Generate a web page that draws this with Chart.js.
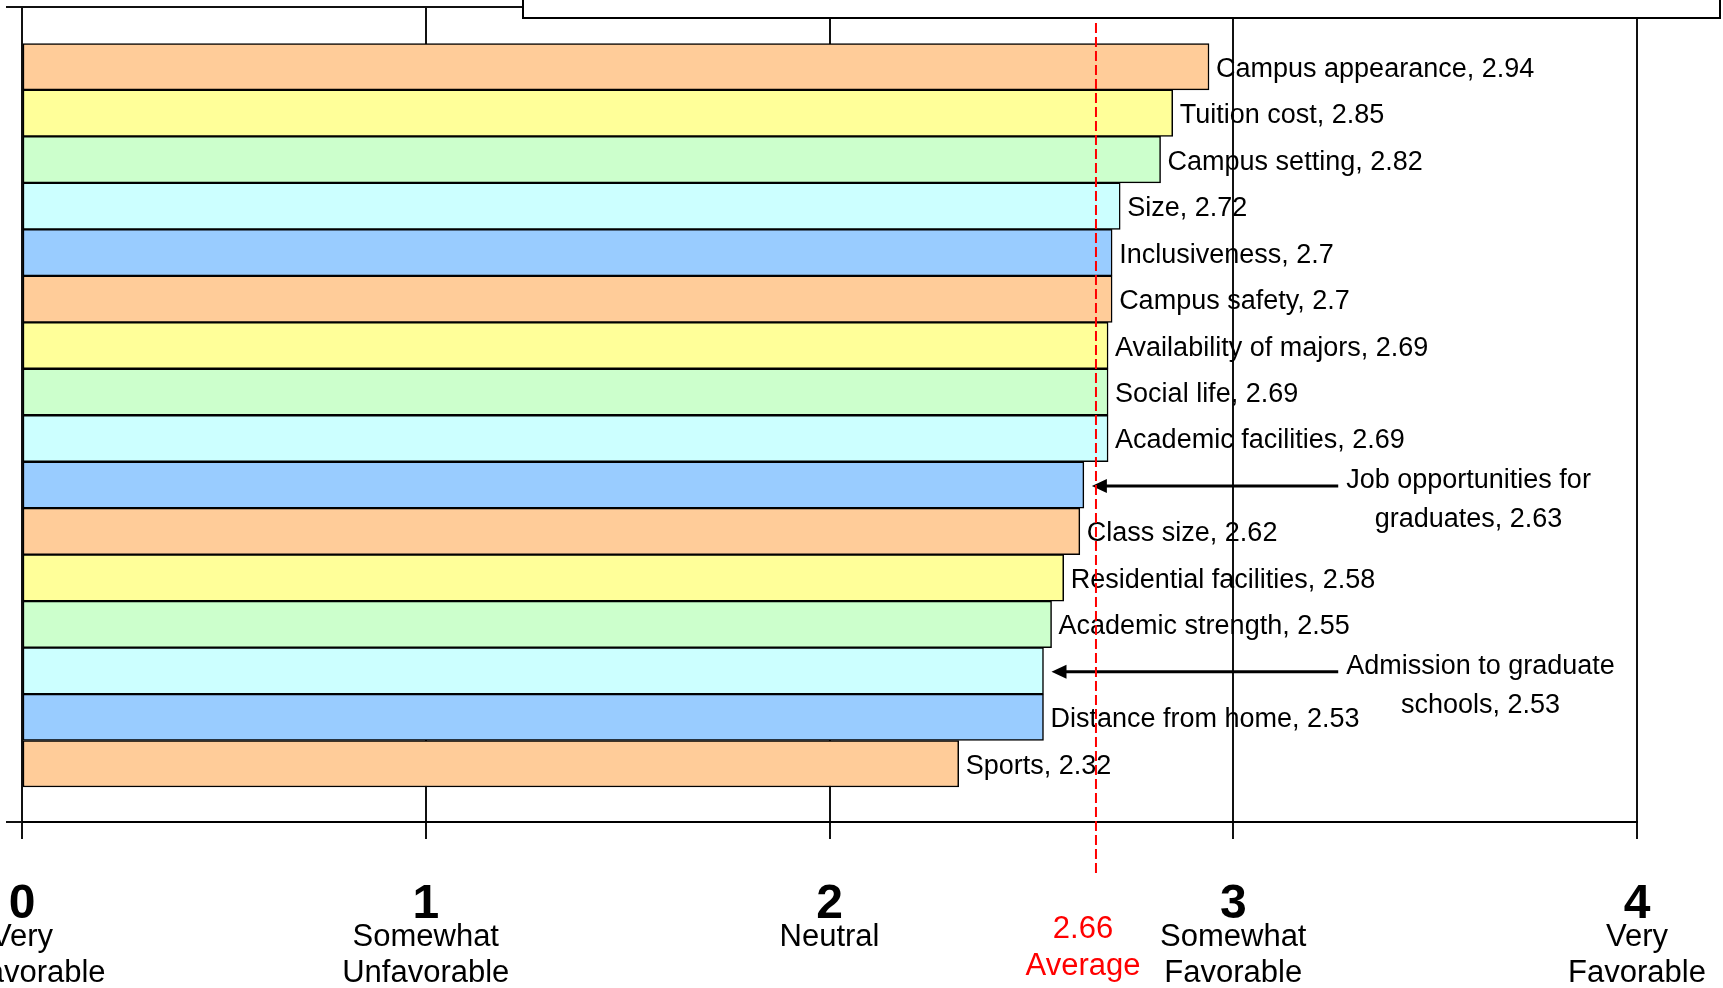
<!DOCTYPE html>
<html lang="en">
<head>
    <meta charset="UTF-8">
    <title>Rating of College Attributes</title>
    <script src="https://cdn.jsdelivr.net/npm/chart.js"></script>
    <style>
        html, body { margin: 0; padding: 0; background: #fff; }
        .chart-container { width: 1723px; height: 988px; position: relative; }
    </style>
</head>
<body>
    <div class="chart-container">
        <canvas id="ratingChart"></canvas>
    </div>

    <script>
        // Attributes, top to bottom, with their average rating
        const categories = [
            'Campus appearance', 'Tuition cost', 'Campus setting', 'Size',
            'Inclusiveness', 'Campus safety', 'Availability of majors', 'Social life',
            'Academic facilities', 'Job opportunities for graduates', 'Class size',
            'Residential facilities', 'Academic strength', 'Admission to graduate schools',
            'Distance from home', 'Sports'
        ];
        const scores = [2.94, 2.85, 2.82, 2.72, 2.7, 2.7, 2.69, 2.69, 2.69, 2.63, 2.62, 2.58, 2.55, 2.53, 2.53, 2.32];

        // Scale ticks and their captions
        const tickValues = [0, 1, 2, 3, 4];
        const tickCaptions = [
            ['Very', 'Unfavorable'],
            ['Somewhat', 'Unfavorable'],
            ['Neutral'],
            ['Somewhat', 'Favorable'],
            ['Very', 'Favorable']
        ];

        // Average reference line
        const averageScore = 2.66;
        const averageCaption = ['2.66', 'Average'];

        // Labels that sit off to the side with an arrow
        const calloutLabels = {
            'Job opportunities for graduates': ['Job opportunities for', 'graduates'],
            'Admission to graduate schools': ['Admission to graduate', 'schools']
        };

        const fillColors = ['#FFCC99', '#FFFF99', '#CCFFCC', '#CCFFFF', '#99CCFF'];
        const FONT = '"Liberation Sans", Arial, sans-serif';

        const barPoints = scores.map((s, i) => ({ x: s, y: i }));

        // Draws bar labels, callouts, the average line and axis captions
        const annotations = {
            id: 'annotations',
            beforeDraw(chart) {
                const ctx = chart.ctx;
                ctx.save();
                ctx.fillStyle = '#fff';
                ctx.fillRect(0, 0, chart.width, chart.height);
                ctx.restore();
            },
            afterDatasetsDraw(chart) {
                const { ctx, chartArea: area, scales: { x } } = chart;
                const line = (x1, y1, x2, y2) => {
                    ctx.beginPath(); ctx.moveTo(x1, y1); ctx.lineTo(x2, y2); ctx.stroke();
                };
                ctx.save();

                // top border and small left stubs of the category axis
                ctx.strokeStyle = '#111';
                ctx.lineWidth = 2;
                line(6, area.top, area.right, area.top);
                line(6, area.bottom, area.left, area.bottom);

                // bar labels
                ctx.font = '27px ' + FONT;
                ctx.fillStyle = '#000';
                ctx.textBaseline = 'alphabetic';
                const arrowEnd = x.getPixelForValue(3.26);
                chart.getDatasetMeta(0).data.forEach((bar, i) => {
                    const callout = calloutLabels[categories[i]];
                    if (!callout) {
                        ctx.textAlign = 'left';
                        ctx.fillText(categories[i] + ', ' + scores[i], bar.x + 7, bar.y + 10);
                        return;
                    }
                    const tipX = bar.x + 8;
                    const ay = bar.y + 1;
                    ctx.strokeStyle = '#000';
                    ctx.lineWidth = 3;
                    line(tipX + 12, ay, arrowEnd, ay);
                    ctx.beginPath();
                    ctx.moveTo(tipX, ay);
                    ctx.lineTo(tipX + 15, ay - 7);
                    ctx.lineTo(tipX + 15, ay + 7);
                    ctx.closePath();
                    ctx.fill();
                    const lines = [callout[0], callout[1] + ', ' + scores[i]];
                    const cx = arrowEnd + 8 + ctx.measureText(lines[0]).width / 2;
                    ctx.textAlign = 'center';
                    ctx.fillText(lines[0], cx, bar.y + 3);
                    ctx.fillText(lines[1], cx, bar.y + 42);
                });

                // average line
                const ax = x.getPixelForValue(averageScore);
                ctx.strokeStyle = '#FF0000';
                ctx.lineWidth = 2;
                ctx.setLineDash([10, 4]);
                line(ax, 23, ax, 873);
                ctx.setLineDash([]);

                // tick numbers and captions
                ctx.textAlign = 'center';
                ctx.fillStyle = '#000';
                tickValues.forEach((v, i) => {
                    const px = x.getPixelForValue(v);
                    ctx.font = 'bold 48px ' + FONT;
                    ctx.fillText(String(v), px, 918);
                    ctx.font = '31px ' + FONT;
                    tickCaptions[i].forEach((t, k) => ctx.fillText(t, px, 946 + k * 36));
                });

                // average caption
                ctx.fillStyle = '#FF0000';
                ctx.font = '31px ' + FONT;
                averageCaption.forEach((t, k) => ctx.fillText(t, ax - 13, 938 + k * 37));

                // cut-off title box at the top
                ctx.fillStyle = '#fff';
                ctx.strokeStyle = '#000';
                ctx.lineWidth = 2;
                ctx.fillRect(523, -5, 1197, 23);
                ctx.strokeRect(523, -5, 1197, 23);

                ctx.restore();
            }
        };

        new Chart(document.getElementById('ratingChart'), {
            type: 'bar',
            data: {
                datasets: [{
                    data: barPoints,
                    backgroundColor: scores.map((_, i) => fillColors[i % fillColors.length]),
                    borderColor: '#000',
                    borderWidth: 1.5,
                    borderSkipped: false,
                    barPercentage: 1,
                    categoryPercentage: 1
                }]
            },
            options: {
                indexAxis: 'y',
                responsive: true,
                maintainAspectRatio: false,
                animation: false,
                layout: { padding: { left: 22, right: 86, top: 7, bottom: 0 } },
                plugins: { legend: { display: false }, tooltip: { enabled: false } },
                scales: {
                    x: {
                        type: 'linear',
                        min: 0,
                        max: 4,
                        ticks: { stepSize: 1, display: false },
                        grid: { color: '#111', lineWidth: 2, drawTicks: true, tickLength: 17 },
                        border: { display: true, color: '#000', width: 2 },
                        afterFit: s => { s.height = 166; }
                    },
                    y: {
                        type: 'linear',
                        reverse: true,
                        offset: false,
                        min: -1.285,
                        max: 16.253,
                        display: false,
                        afterBuildTicks: s => { s.ticks = categories.map((_, i) => ({ value: i })); }
                    }
                }
            },
            plugins: [annotations]
        });
    </script>
</body>
</html>
